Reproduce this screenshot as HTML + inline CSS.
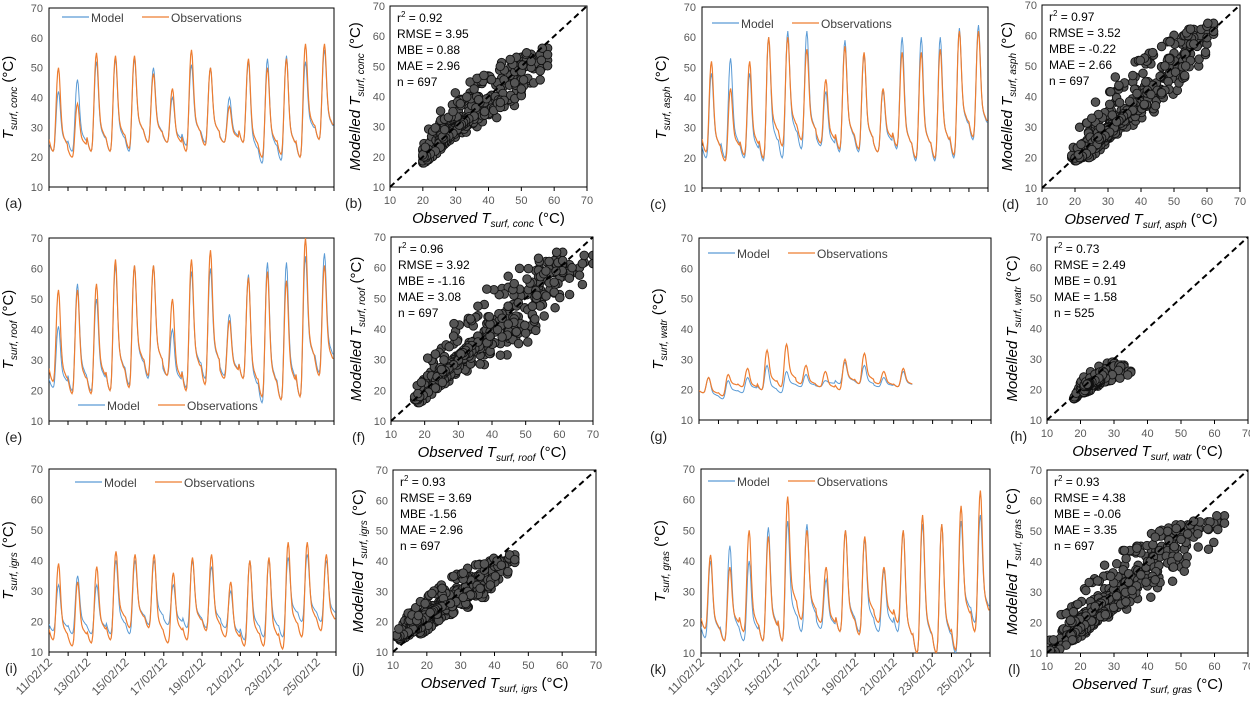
<!DOCTYPE html>
<html><head><meta charset="utf-8">
<style>
body{margin:0;background:#fff;}
svg{display:block;font-family:"Liberation Sans",sans-serif;}
</style></head>
<body>
<svg id="fig" width="1250" height="702" viewBox="0 0 1250 702"></svg>
<script>
// ---- data: daily minima / peaks (11/02/12 .. 25/02/12) ----
const dateLabels = ["11/02/12","13/02/12","15/02/12","17/02/12","19/02/12","21/02/12","23/02/12","25/02/12"];
const yTicks = [10,20,30,40,50,60,70];
const concObsPeak = [50,38,55,54,54,48,43,56,50,37,53,50,53,58,58];
const concObsMin  = [22,20,22,22,23,25,25,22,24,25,25,20,21,20,26];
const concModPeak = [42,46,52,53,53,50,40,51,50,40,52,53,54,52,56];
const concModMin  = [22,22,22,22,22,25,25,24,25,25,25,18,19,20,26];
const asphObsPeak = [52,43,52,60,60,56,46,57,55,43,55,55,56,62,62];
const asphObsMin  = [22,19,21,20,24,26,25,23,23,22,24,20,20,21,27];
const asphModPeak = [48,53,48,60,62,62,42,59,54,42,60,60,60,63,64];
const asphModMin  = [20,20,20,19,20,23,24,22,22,22,23,19,19,20,26];
const roofObsPeak = [53,53,55,63,61,61,50,63,66,43,57,59,56,70,61];
const roofObsMin  = [23,19,19,20,21,25,25,20,22,24,24,18,17,18,25];
const roofModPeak = [41,55,50,61,61,61,40,59,60,45,58,62,62,64,65];
const roofModMin  = [21,20,20,20,22,24,25,21,24,25,24,16,17,18,26];
const watrObsPeak = [24,25,27,33,35,28,26,30,32,26,27];
const watrObsMin  = [19,18,21,20,21,22,21,20,22,22,21];
const watrModPeak = [24,23,24,28,26,25,23,29,28,24,26];
const watrModMin  = [19,17,19,20,19,21,21,22,22,21,21];
const igrsObsPeak = [39,33,38,43,42,42,36,41,42,33,40,41,46,46,42];
const igrsObsMin  = [14,12,13,14,18,18,13,14,17,15,12,12,11,15,17];
const igrsModPeak = [32,35,32,40,40,40,32,40,38,30,40,40,41,42,40];
const igrsModMin  = [17,16,16,16,16,19,19,18,18,18,14,15,15,20,20];
const grasObsPeak = [42,38,50,48,61,50,38,50,48,38,50,55,52,58,63];
const grasObsMin  = [18,14,17,14,14,21,20,17,16,20,20,10,10,11,17];
const grasModPeak = [40,45,40,51,53,52,34,50,47,37,50,52,52,53,55];
const grasModMin  = [15,14,14,14,14,17,18,17,17,17,17,10,10,10,20];

const PROFILE=[0.14,0.1,0.06,0.03,0.01,0,0.02,0.1,0.3,0.55,0.8,0.95,1,0.93,0.75,0.55,0.4,0.3,0.25,0.22,0.2,0.18,0.16,0.15];
const NS="http://www.w3.org/2000/svg";
const svg=document.getElementById('fig');
function mk(tag,attrs,parent){const e=document.createElementNS(NS,tag);for(const k in attrs)e.setAttribute(k,attrs[k]);(parent||svg).appendChild(e);return e;}
function series(mn,pk){const out=[];for(let d=0;d<pk.length;d++){for(let h=0;h<24;h++){const nm=(h<12||d+1>=mn.length)?mn[d]:mn[d+1];let lo=h<12?mn[d]:nm;out.push(lo+(pk[d]-lo)*PROFILE[h]);}}return out;}

const panels=[
 {k:'conc',obsP:concObsPeak,obsM:concObsMin,modP:concModPeak,modM:concModMin,ts:[49,334,8,187],sc:[390,587,6,187],st:["0.92","3.95","= 0.88","2.96","697"],L:['a','b'],Lx:[5,345],leg:[62,17]},
 {k:'asph',obsP:asphObsPeak,obsM:asphObsMin,modP:asphModPeak,modM:asphModMin,ts:[702,988,7,188],sc:[1042,1240,5,188],st:["0.97","3.52","= -0.22","2.66","697"],L:['c','d'],Lx:[650,1002],leg:[712,23]},
 {k:'roof',obsP:roofObsPeak,obsM:roofObsMin,modP:roofModPeak,modM:roofModMin,ts:[49,334,238,421],sc:[391,593,237,421],st:["0.96","3.92","= -1.16","3.08","697"],L:['e','f'],Lx:[5,352],leg:[78,405]},
 {k:'watr',obsP:watrObsPeak,obsM:watrObsMin,modP:watrModPeak,modM:watrModMin,ts:[699,991,238,420],sc:[1047,1248,237,420],st:["0.73","2.49","= 0.91","1.58","525"],L:['g','h'],Lx:[650,1010],leg:[708,253]},
 {k:'igrs',obsP:igrsObsPeak,obsM:igrsObsMin,modP:igrsModPeak,modM:igrsModMin,ts:[49,336,469,652],sc:[393,596,470,652],st:["0.93","3.69","-1.56","2.96","697"],L:['i','j'],Lx:[5,352],leg:[75,482]},
 {k:'gras',obsP:grasObsPeak,obsM:grasObsMin,modP:grasModPeak,modM:grasModMin,ts:[701,990,469,653],sc:[1047,1248,470,653],st:["0.93","4.38","= -0.06","3.35","697"],L:['k','l'],Lx:[650,1008],leg:[708,481]}
];
const BLUE="#5b9bd5",ORANGE="#ed7d31",TICK="#595959";

function ylab(g,x,y,pre,sub){
 const t=mk('text',{x:x,y:y,'font-size':15,'text-anchor':'middle',transform:`rotate(-90 ${x} ${y})`},g);
 
 
 t.innerHTML=(pre?'<tspan font-style="italic">'+pre+'</tspan>':'')+'<tspan font-style="italic">T</tspan><tspan font-size="10" dy="4" font-style="italic">surf, '+sub+'</tspan><tspan dy="-4"> (°C)</tspan>';
}

panels.forEach((p,pi)=>{
 const obs=series(p.obsM,p.obsP), mod=series(p.modM,p.modP);
 const g=mk('g',{});
 
 
 const [x0,x1,y0,y1]=p.ts;
 const xs=h=>x0+(x1-x0)*h/(15*24);
 const ys=v=>y1-(y1-y0)*(v-10)/60;
 mk('rect',{x:x0,y:y0,width:x1-x0,height:y1-y0,fill:'none',stroke:'#000','stroke-width':1},g);
 yTicks.forEach(v=>{const t=mk('text',{x:x0-6,y:ys(v)+4,'font-size':11,fill:TICK,'text-anchor':'end'},g);t.textContent=v;});
 for(let d=0;d<=15;d++){mk('line',{x1:xs(d*24),x2:xs(d*24),y1:y1,y2:y1+4,stroke:'#000'},g);}
 if(pi>=4){dateLabels.forEach((s,i)=>{const tx=xs(i*48)+4,ty=663;const t=mk('text',{x:tx,y:ty,'font-size':12,fill:TICK,'text-anchor':'end',transform:`rotate(-45 ${tx} ${ty})`},g);t.textContent=s;});}
 const clip='c'+pi;const cp=mk('clipPath',{id:clip},g);mk('rect',{x:x0,y:y0,width:x1-x0,height:y1-y0},cp);
 const pts=a=>a.map((v,i)=>xs(i).toFixed(1)+','+ys(v).toFixed(1)).join(' ');
 const lm=mk('polyline',{points:pts(mod),fill:'none',stroke:BLUE,'stroke-width':1,'clip-path':`url(#${clip})`},g);
 
 
 const lo=mk('polyline',{points:pts(obs),fill:'none',stroke:ORANGE,'stroke-width':1.2,'clip-path':`url(#${clip})`},g);
 
 
 const [lx,ly]=p.leg;
 const lg=mk('g',{},g);
 
 
 mk('line',{x1:lx,x2:lx+27,y1:ly,y2:ly,stroke:BLUE,'stroke-width':1.2},lg);
 let t=mk('text',{x:lx+29,y:ly+5,'font-size':12,fill:'#404040'},lg);t.textContent='Model';
 mk('line',{x1:lx+80,x2:lx+107,y1:ly,y2:ly,stroke:ORANGE,'stroke-width':1.2},lg);
 t=mk('text',{x:lx+109,y:ly+5,'font-size':12,fill:'#404040'},lg);t.textContent='Observations';
 ylab(g,x0-36,(y0+y1)/2,'',p.k);
 t=mk('text',{x:p.Lx[0],y:y1+21,'font-size':14,fill:'#222'},g);t.textContent='('+p.L[0]+')';
 

 const s=mk('g',{});
 
 
 const [sx0,sx1,sy0,sy1]=p.sc;
 const sx=v=>sx0+(sx1-sx0)*(v-10)/60, sy=v=>sy1-(sy1-sy0)*(v-10)/60;
 const sclip='s'+pi;const scp=mk('clipPath',{id:sclip},s);mk('rect',{x:sx0,y:sy0,width:sx1-sx0,height:sy1-sy0},scp);
 const pg=mk('g',{'clip-path':`url(#${sclip})`},s);
 [0,1].forEach(lag=>{
  for(let i=0;i<obs.length;i++){const j=i+lag;if(j<0||j>=mod.length)continue;
   const c=mk('circle',{cx:sx(obs[i]).toFixed(1),cy:sy(mod[j]).toFixed(1),r:4.3,fill:'#555',stroke:'#111','stroke-width':0.9},pg);
   
   }
 });
 const dl=mk('line',{x1:sx(10),y1:sy(10),x2:sx(70),y2:sy(70),stroke:'#000','stroke-width':2,'stroke-dasharray':'6,4'},s);
 
 
 mk('rect',{x:sx0,y:sy0,width:sx1-sx0,height:sy1-sy0,fill:'none',stroke:'#000'},s);
 yTicks.forEach(v=>{let tt=mk('text',{x:sx0-5,y:sy(v)+4,'font-size':11,fill:TICK,'text-anchor':'end'},s);tt.textContent=v;
   tt=mk('text',{x:sx(v),y:sy1+17,'font-size':11,fill:TICK,'text-anchor':'middle'},s);tt.textContent=v;
   mk('line',{x1:sx(v),x2:sx(v),y1:sy1,y2:sy1+4,stroke:'#000'},s);});
 const st=mk('text',{x:sx0+7,y:sy0+16,'font-size':12,fill:'#000'},s);
 
 
 st.innerHTML=`<tspan x="${sx0+7}">r<tspan font-size="8" dy="-5">2</tspan><tspan dy="5"> = ${p.st[0]}</tspan></tspan><tspan x="${sx0+7}" dy="16">RMSE = ${p.st[1]}</tspan><tspan x="${sx0+7}" dy="16">MBE ${p.st[2]}</tspan><tspan x="${sx0+7}" dy="16">MAE = ${p.st[3]}</tspan><tspan x="${sx0+7}" dy="16">n = ${p.st[4]}</tspan>`;
 ylab(s,sx0-30,(sy0+sy1)/2,'Modelled ',p.k);
 const xt=mk('text',{x:(sx0+sx1)/2,y:sy1+36,'font-size':15,'text-anchor':'middle'},s);
 
 
 xt.innerHTML='<tspan font-style="italic">Observed T</tspan><tspan font-size="10" dy="4" font-style="italic">surf, '+p.k+'</tspan><tspan dy="-4"> (°C)</tspan>';
 t=mk('text',{x:p.Lx[1],y:sy1+21,'font-size':14,fill:'#222'},s);t.textContent='('+p.L[1]+')';
 
});
</script>
</body></html>
